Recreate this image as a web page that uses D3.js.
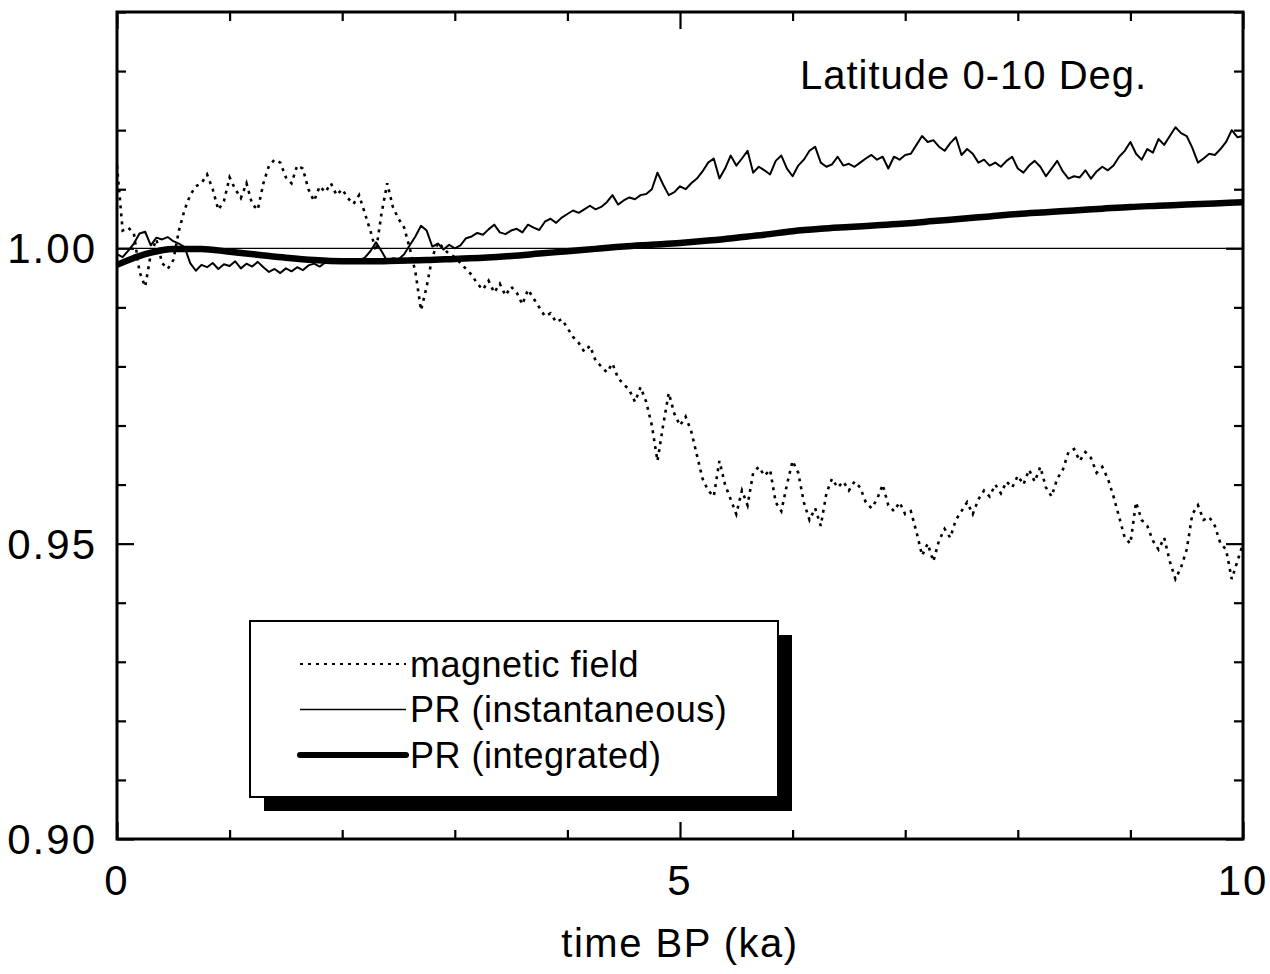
<!DOCTYPE html>
<html>
<head>
<meta charset="utf-8">
<script src="https://cdn.jsdelivr.net/npm/d3@7"></script>
<style>
  html, body { margin: 0; padding: 0; background: #fff; }
  svg { display: block; font-family: "Liberation Sans", Arial, Helvetica, sans-serif; }
</style>
</head>
<body>
<div id="chart"></div>
<script>
// --- Data (time BP in ka, step 0.05 ka for the noisy series) ---
const STEP = 0.05;

const magneticField = [
  1.0140, 1.0030, 1.0035, 1.0025, 0.9960, 0.9935, 0.9990, 1.0015, 0.9975, 0.9965,
  0.9980, 1.0030, 1.0065, 1.0090, 1.0105, 1.0110, 1.0125, 1.0100, 1.0065, 1.0080,
  1.0120, 1.0100, 1.0085, 1.0110, 1.0075, 1.0065, 1.0110, 1.0140, 1.0150, 1.0145,
  1.0120, 1.0110, 1.0140, 1.0135, 1.0100, 1.0080, 1.0105, 1.0095, 1.0110, 1.0090,
  1.0100, 1.0085, 1.0075, 1.0090, 1.0060, 1.0030, 0.9995, 1.0060, 1.0110, 1.0070,
  1.0050, 1.0035, 1.0000, 0.9960, 0.9895, 0.9935, 0.9985, 1.0010, 1.0000, 0.9990,
  0.9985, 0.9975, 0.9965, 0.9955, 0.9940, 0.9930, 0.9945, 0.9925, 0.9940, 0.9920,
  0.9935, 0.9925, 0.9905, 0.9930, 0.9915, 0.9900, 0.9885, 0.9890, 0.9875, 0.9880,
  0.9865, 0.9850, 0.9840, 0.9825, 0.9835, 0.9810, 0.9800, 0.9790, 0.9805, 0.9780,
  0.9770, 0.9760, 0.9740, 0.9765, 0.9740, 0.9700, 0.9640, 0.9700, 0.9755, 0.9720,
  0.9700, 0.9715, 0.9690, 0.9650, 0.9610, 0.9590, 0.9580, 0.9640, 0.9600, 0.9575,
  0.9550, 0.9590, 0.9565, 0.9620, 0.9630, 0.9615, 0.9625, 0.9570, 0.9555, 0.9600,
  0.9640, 0.9620, 0.9570, 0.9540, 0.9560, 0.9530, 0.9585, 0.9610, 0.9595, 0.9605,
  0.9590, 0.9605, 0.9595, 0.9570, 0.9560, 0.9575, 0.9600, 0.9565, 0.9555, 0.9570,
  0.9550, 0.9555, 0.9520, 0.9480, 0.9500, 0.9470, 0.9505, 0.9525, 0.9510, 0.9540,
  0.9555, 0.9570, 0.9550, 0.9575, 0.9590, 0.9580, 0.9600, 0.9585, 0.9605, 0.9595,
  0.9615, 0.9600, 0.9625, 0.9605, 0.9630, 0.9595, 0.9580, 0.9610, 0.9625, 0.9655,
  0.9660, 0.9640, 0.9655, 0.9645, 0.9620, 0.9630, 0.9610, 0.9580, 0.9545, 0.9510,
  0.9500, 0.9570, 0.9540, 0.9530, 0.9505, 0.9490, 0.9510, 0.9470, 0.9440, 0.9460,
  0.9490, 0.9550, 0.9565, 0.9540, 0.9545, 0.9530, 0.9500, 0.9490, 0.9440, 0.9470,
  0.9500
];

const prInstantaneous = [
  0.9990, 0.9985, 0.9996, 1.0008, 1.0025, 1.0028, 1.0005, 1.0018, 1.0015, 1.0019,
  1.0012, 1.0008, 1.0002, 0.9975, 0.9962, 0.9972, 0.9968, 0.9975, 0.9965, 0.9973,
  0.9970, 0.9978, 0.9966, 0.9974, 0.9969, 0.9977, 0.9968, 0.9960, 0.9965, 0.9958,
  0.9966, 0.9961, 0.9968, 0.9963, 0.9971, 0.9974, 0.9969, 0.9976, 0.9979, 0.9975,
  0.9981, 0.9978, 0.9982, 0.9979, 0.9984, 0.9995, 1.0010, 0.9995, 0.9978, 0.9983,
  0.9981, 0.9990, 1.0005, 1.0020, 1.0038, 1.0030, 1.0003, 1.0008, 0.9998, 1.0006,
  1.0000, 1.0005, 1.0017, 1.0020, 1.0026, 1.0023, 1.0032, 1.0040, 1.0027, 1.0024,
  1.0030, 1.0033, 1.0027, 1.0040, 1.0035, 1.0031, 1.0045, 1.0050, 1.0043, 1.0052,
  1.0058, 1.0064, 1.0060, 1.0066, 1.0072, 1.0066, 1.0070, 1.0078, 1.0090, 1.0074,
  1.0081, 1.0086, 1.0083, 1.0090, 1.0092, 1.0100, 1.0128, 1.0108, 1.0090, 1.0095,
  1.0105, 1.0100, 1.0110, 1.0118, 1.0130, 1.0145, 1.0152, 1.0118, 1.0135, 1.0157,
  1.0140, 1.0152, 1.0165, 1.0128, 1.0138, 1.0132, 1.0125, 1.0148, 1.0157, 1.0135,
  1.0122, 1.0140, 1.0150, 1.0165, 1.0172, 1.0145, 1.0138, 1.0142, 1.0155, 1.0140,
  1.0143, 1.0138, 1.0145, 1.0152, 1.0158, 1.0150, 1.0155, 1.0135, 1.0155, 1.0150,
  1.0158, 1.0160, 1.0175, 1.0190, 1.0180, 1.0183, 1.0172, 1.0165, 1.0178, 1.0188,
  1.0158, 1.0168, 1.0160, 1.0145, 1.0150, 1.0140, 1.0145, 1.0138, 1.0148, 1.0155,
  1.0135, 1.0128, 1.0140, 1.0148, 1.0138, 1.0122, 1.0135, 1.0148, 1.0130, 1.0118,
  1.0122, 1.0120, 1.0132, 1.0118, 1.0130, 1.0138, 1.0132, 1.0140, 1.0155, 1.0165,
  1.0180, 1.0160, 1.0150, 1.0168, 1.0162, 1.0185, 1.0175, 1.0190, 1.0205, 1.0195,
  1.0190, 1.0170, 1.0145, 1.0152, 1.0160, 1.0158, 1.0168, 1.0180, 1.0200, 1.0188,
  1.0190
];

// smooth integrated curve, step 0.25 ka
const INT_STEP = 0.25;
const prIntegrated = [
  0.9972, 0.9990, 0.9999, 0.9999, 0.9994, 0.9989, 0.9984, 0.9980, 0.9978, 0.9978,
  0.9979, 0.9980, 0.9982, 0.9984, 0.9987, 0.9991, 0.9995, 0.9999, 1.0003, 1.0006,
  1.0009, 1.0013, 1.0018, 1.0023, 1.0029, 1.0033, 1.0036, 1.0039, 1.0042, 1.0046,
  1.0050, 1.0054, 1.0058, 1.0061, 1.0064, 1.0067, 1.0070, 1.0072, 1.0074, 1.0076,
  1.0078
];

const referenceLevel = 1.0;

const xTickLabels = [0, 5, 10];
const yTickLabels = ["0.90", "0.95", "1.00"];

const legendLabels = ["magnetic field", "PR (instantaneous)", "PR (integrated)"];
const titleText = "Latitude 0-10 Deg.";
const xAxisTitle = "time BP (ka)";

// --- Layout ---
const W = 1270, H = 974;
const margin = { top: 12, right: 27, bottom: 135, left: 117 };
const innerW = W - margin.left - margin.right;
const innerH = H - margin.top - margin.bottom;

const svg = d3.select("#chart").append("svg")
  .attr("width", W).attr("height", H);

const x = d3.scaleLinear().domain([0, 10]).range([0, innerW]);
const y = d3.scaleLinear().domain([0.90, 1.04]).range([innerH, 0]);

const g = svg.append("g").attr("transform", `translate(${margin.left},${margin.top})`);

svg.append("defs").append("clipPath").attr("id", "plot-clip")
  .append("rect").attr("width", innerW).attr("height", innerH);

const plot = g.append("g").attr("clip-path", "url(#plot-clip)");

// reference line at 1.00
plot.append("line")
  .attr("x1", 0).attr("x2", innerW)
  .attr("y1", y(referenceLevel)).attr("y2", y(referenceLevel))
  .attr("stroke", "#000").attr("stroke-width", 1.3);

const line = d3.line()
  .x(d => x(d[0]))
  .y(d => y(d[1]));

const toPoints = (arr, step) => arr.map((v, i) => [i * step, v]);

plot.append("path")
  .datum(toPoints(magneticField, STEP))
  .attr("fill", "none").attr("stroke", "#000")
  .attr("stroke-width", 2.6)
  .attr("stroke-dasharray", "3,5")
  .attr("d", line);

plot.append("path")
  .datum(toPoints(prInstantaneous, STEP))
  .attr("fill", "none").attr("stroke", "#000")
  .attr("stroke-width", 2)
  .attr("stroke-linejoin", "round")
  .attr("d", line);

plot.append("path")
  .datum(toPoints(prIntegrated, INT_STEP))
  .attr("fill", "none").attr("stroke", "#000")
  .attr("stroke-width", 6.5)
  .attr("stroke-linejoin", "round")
  .attr("d", line.curve(d3.curveMonotoneX));

// --- Axes (ticks inward on all four sides) ---
const yMinor = d3.range(0, 15).map(i => +(0.90 + i * 0.01).toFixed(2));
const yMajor = yTickLabels.map(Number);
const xMinor = d3.range(0, 11);

function addAxis(axisFn, scale, values, size, transform) {
  const a = g.append("g").attr("transform", transform)
    .call(axisFn(scale).tickValues(values).tickSize(size).tickFormat(""));
  a.select(".domain").remove();
  a.selectAll(".tick line").attr("stroke", "#000").attr("stroke-width", 2.2);
  return a;
}

addAxis(d3.axisLeft, y, yMinor.filter(v => !yMajor.includes(v)), -9, null);
addAxis(d3.axisLeft, y, yMajor, -17, null);
addAxis(d3.axisRight, y, yMinor.filter(v => !yMajor.includes(v)), -9, `translate(${innerW},0)`);
addAxis(d3.axisRight, y, yMajor, -17, `translate(${innerW},0)`);
addAxis(d3.axisBottom, x, xMinor.filter(v => !xTickLabels.includes(v)), -9, `translate(0,${innerH})`);
addAxis(d3.axisBottom, x, xTickLabels, -17, `translate(0,${innerH})`);
addAxis(d3.axisTop, x, xMinor.filter(v => !xTickLabels.includes(v)), -9, null);
addAxis(d3.axisTop, x, xTickLabels, -17, null);

// frame
g.append("rect")
  .attr("width", innerW).attr("height", innerH)
  .attr("fill", "none").attr("stroke", "#000").attr("stroke-width", 3);

// tick labels
g.append("g").selectAll("text").data(yTickLabels).join("text")
  .attr("x", -20).attr("y", d => y(+d))
  .attr("dy", "0.36em")
  .attr("text-anchor", "end")
  .attr("font-size", 42)
  .attr("letter-spacing", 2)
  .text(d => d);

g.append("g").selectAll("text").data(xTickLabels).join("text")
  .attr("x", d => x(d)).attr("y", innerH + 56)
  .attr("text-anchor", "middle")
  .attr("font-size", 42)
  .attr("letter-spacing", 2)
  .text(d => d);

svg.append("text")
  .attr("x", margin.left + x(5)).attr("y", 957)
  .attr("text-anchor", "middle")
  .attr("font-size", 40)
  .attr("letter-spacing", 1.5)
  .text(xAxisTitle);

// title
g.append("text")
  .attr("x", 683).attr("y", 77)
  .attr("font-size", 40)
  .attr("letter-spacing", 1)
  .text(titleText);

// --- Legend ---
const legend = svg.append("g").attr("transform", "translate(250,621)");
const legW = 528, legH = 176;
legend.append("rect")
  .attr("x", 14).attr("y", 14).attr("width", legW).attr("height", legH)
  .attr("fill", "#000");
legend.append("rect")
  .attr("width", legW).attr("height", legH)
  .attr("fill", "#fff").attr("stroke", "#000").attr("stroke-width", 2);

const legendStyles = [
  { w: 2, dash: "3,5" },
  { w: 1.6, dash: null },
  { w: 6, dash: null }
];
const rowY = d3.scalePoint().domain(legendLabels).range([43, 134]);

const rows = legend.selectAll("g.row").data(legendLabels).join("g")
  .attr("class", "row")
  .attr("transform", d => `translate(0,${rowY(d)})`);

rows.append("line")
  .attr("x1", 50).attr("x2", 156)
  .attr("stroke", "#000")
  .attr("stroke-linecap", (d, i) => i === 2 ? "round" : "butt")
  .attr("stroke-width", (d, i) => legendStyles[i].w)
  .attr("stroke-dasharray", (d, i) => legendStyles[i].dash);

rows.append("text")
  .attr("x", 160).attr("dy", "0.36em")
  .attr("font-size", 36)
  .attr("letter-spacing", 0.5)
  .text(d => d);
</script>
</body>
</html>
